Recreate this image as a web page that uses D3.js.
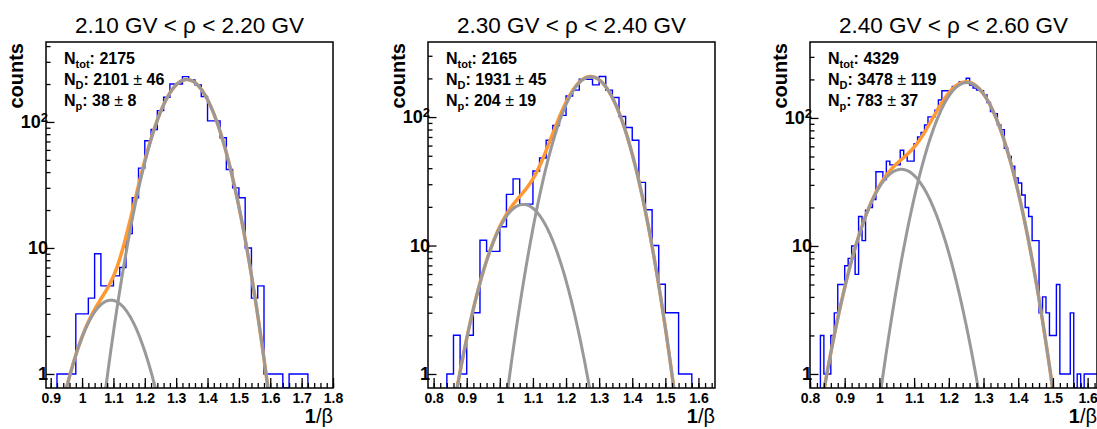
<!DOCTYPE html>
<html>
<head>
<meta charset="utf-8">
<script src="https://cdn.jsdelivr.net/npm/d3@7"></script>
<style>
body { margin: 0; background: #fff; }
svg { display: block; }
text { font-family: "Liberation Sans", Arial, Helvetica, sans-serif; }
</style>
</head>
<body>
<svg id="chart" width="1097" height="429"></svg>
<script>
// ---- data ----
const titles = ["2.10 GV < \u03C1 < 2.20 GV", "2.30 GV < \u03C1 < 2.40 GV", "2.40 GV < \u03C1 < 2.60 GV"];
const xRanges = [[0.885, 1.8], [0.783, 1.65], [0.8, 1.627]];
const yRanges = [[0.774, 431], [0.778, 384], [0.777, 392]];
const binStart = [0.92, 0.84, 0.83];
const binWidth = [0.02, 0.02, 0.01];

const counts1 = [1, 1, 1, 3, 3, 4, 9, 5, 5, 6, 7, 13, 25, 43, 71, 87, 123, 157, 200, 200,
  229, 215, 197, 159, 102, 102, 75, 42, 30, 25, 10, 4, 5, 1, 1, 1, 0, 1, 1, 1];
const counts2 = [1, 2, 1, 2, 3, 11, 9, 9, 14, 25, 33, 21, 21, 38, 48, 66, 86, 103, 146, 162,
  197, 197, 178, 207, 162, 142, 101, 83, 66, 31, 19, 10, 5, 3, 3, 1, 1];
const counts3 = [2, 1, 1, 2, 3, 5, 5, 7, 8, 10, 6, 17, 11, 19, 20, 23, 38, 38, 33, 46,
  43, 43, 43, 56, 51, 46, 46, 63, 71, 77, 88, 102, 102, 115, 138, 163, 163, 163, 176, 181,
  192, 192, 204, 181, 171, 165, 163, 151, 132, 112, 108, 88, 81, 58, 50, 42, 34, 31, 25, 20,
  17, 11, 11, 3, 4, 3, 2, 2, 5, 1, 1, 1, 3, 0, 1, 0, 1, 1, 1, 1];
const histCounts = [counts1, counts2, counts3];

const nTot = [2175, 2165, 4329];
const nD = [[2101, 46], [1931, 45], [3478, 119]];
const nP = [[38, 8], [204, 19], [783, 37]];

// gaussian fit components: [amplitude, mean, sigma]
const fitD = [[217, 1.334, 0.077], [206, 1.275, 0.075], [189, 1.252, 0.0745]];
const fitP = [[3.85, 1.092, 0.079], [20.9, 1.071, 0.078], [39.7, 1.063, 0.079]];

// ---- layout ----
const panelLeft = [46, 428, 810];
const plotWidth = 287;
const plotTop = 42;
const plotBottom = 388;

const svg = d3.select("#chart");

const gauss = (p, v) => p[0] * Math.exp(-0.5 * Math.pow((v - p[1]) / p[2], 2));

function drawPanel(i) {
	const L = panelLeft[i];
	const R = L + plotWidth;
	const x = d3.scaleLinear().domain(xRanges[i]).range([L, R]);
	const y = d3.scaleLog().domain(yRanges[i]).range([plotBottom, plotTop]);
	const yMin = yRanges[i][0];

	const clipId = "clip" + i;
	svg.append("clipPath").attr("id", clipId)
		.append("rect").attr("x", L).attr("y", plotTop).attr("width", plotWidth).attr("height", plotBottom - plotTop);

	const g = svg.append("g");
	const plot = g.append("g").attr("clip-path", `url(#${clipId})`);

	// histogram outline
	const counts = histCounts[i];
	const pts = [[binStart[i], yMin]];
	counts.forEach((c, k) => {
		const e0 = binStart[i] + k * binWidth[i];
		const v = Math.max(c, yMin);
		pts.push([e0, v], [e0 + binWidth[i], v]);
	});
	pts.push([binStart[i] + counts.length * binWidth[i], yMin]);

	plot.append("path")
		.attr("fill", "none")
		.attr("stroke", "#0000ff")
		.attr("stroke-width", 1.4)
		.attr("d", d3.line().x((d) => x(d[0])).y((d) => y(d[1]))(pts));

	// fit curves
	const grid = d3.range(xRanges[i][0], xRanges[i][1] + 0.002, 0.002);
	const curve = (f) => d3.line()
		.x((v) => x(v))
		.y((v) => y(Math.max(f(v), yMin * 0.3)))(grid);

	plot.append("path")
		.attr("fill", "none")
		.attr("stroke", "#ff9933")
		.attr("stroke-width", 3.5)
		.attr("d", curve((v) => gauss(fitD[i], v) + gauss(fitP[i], v)));

	[fitP[i], fitD[i]].forEach((p) => {
		plot.append("path")
			.attr("fill", "none")
			.attr("stroke", "#999999")
			.attr("stroke-width", 3)
			.attr("d", curve((v) => gauss(p, v)));
	});

	// frame
	g.append("rect")
		.attr("x", L).attr("y", plotTop)
		.attr("width", plotWidth).attr("height", plotBottom - plotTop)
		.attr("fill", "none").attr("stroke", "#000").attr("stroke-width", 1.5);

	// x axis: major every 0.1, minor every 0.02
	const major = d3.range(Math.ceil(xRanges[i][0] * 10 - 1e-6), Math.floor(xRanges[i][1] * 10 + 1e-6) + 1).map((k) => k / 10);
	const minor = d3.range(Math.ceil(xRanges[i][0] * 50 - 1e-6), Math.floor(xRanges[i][1] * 50 + 1e-6) + 1).map((k) => k / 50);

	const xMinor = g.append("g").attr("transform", `translate(0,${plotBottom})`)
		.call(d3.axisBottom(x).tickValues(minor).tickSize(-5).tickFormat(""));
	const xMajor = g.append("g").attr("transform", `translate(0,${plotBottom})`)
		.call(d3.axisBottom(x).tickValues(major).tickSize(-10).tickPadding(5).tickFormat(d3.format("~g")));
	[xMinor, xMajor].forEach((a) => {
		a.select(".domain").remove();
		a.selectAll("line").attr("stroke", "#000").attr("stroke-width", 1.3);
	});
	xMajor.selectAll("text")
		.attr("fill", "#000")
		.style("font-size", "14px")
		.style("font-weight", "bold");

	// y axis: log, major at decades
	const yMajor = [1, 10, 100].filter((v) => v >= yRanges[i][0] && v <= yRanges[i][1]);
	const yMinorVals = [2, 3, 4, 5, 6, 7, 8, 9, 20, 30, 40, 50, 60, 70, 80, 90, 200, 300, 400, 500]
		.filter((v) => v >= yRanges[i][0] && v <= yRanges[i][1]);

	const yMin_ = g.append("g").attr("transform", `translate(${L},0)`)
		.call(d3.axisLeft(y).tickValues(yMinorVals).tickSize(-4.5).tickFormat(""));
	const yMaj = g.append("g").attr("transform", `translate(${L},0)`)
		.call(d3.axisLeft(y).tickValues(yMajor).tickSize(-8.5).tickPadding(-2).tickFormat((d) => (d === 100 ? "10" : String(d))));
	[yMin_, yMaj].forEach((a) => {
		a.select(".domain").remove();
		a.selectAll("line").attr("stroke", "#000").attr("stroke-width", 1.3);
	});
	yMaj.selectAll("text")
		.attr("fill", "#000")
		.style("font-size", "18px")
		.style("font-weight", "bold")
		.each(function (d) {
			if (d === 100) {
				d3.select(this).append("tspan")
					.attr("dy", "-0.45em")
					.style("font-size", "13px")
					.text("2");
			}
		});

	// titles
	svg.append("text")
		.attr("x", (L + R) / 2).attr("y", 33)
		.attr("text-anchor", "middle")
		.style("font-size", "22.5px")
		.text(titles[i]);

	svg.append("text")
		.attr("transform", `translate(${L - 23},${plotTop + 1}) rotate(-90)`)
		.attr("text-anchor", "end")
		.style("font-size", "20px")
		.style("font-weight", "bold")
		.text("counts");

	const xt = svg.append("text")
		.attr("x", R).attr("y", 423)
		.attr("text-anchor", "end")
		.style("font-size", "20px");
	xt.append("tspan").style("font-weight", "bold").text("1");
	xt.append("tspan").text("/\u03B2");

	// stats box text
	const stats = [
		["tot", ": " + nTot[i], null],
		["D", ": " + nD[i][0] + " ", nD[i][1]],
		["p", ": " + nP[i][0] + " ", nP[i][1]]
	];
	stats.forEach((s, k) => {
		const t = svg.append("text")
			.attr("x", L + 18).attr("y", 64 + k * 21)
			.style("font-size", "16px")
			.style("font-weight", "bold");
		t.append("tspan").text("N");
		t.append("tspan").attr("dy", 4).style("font-size", "11px").text(s[0]);
		t.append("tspan").attr("dy", -4).text(s[1]);
		if (s[2] !== null) {
			t.append("tspan").style("font-weight", "normal").text("\u00B1");
			t.append("tspan").text(" " + s[2]);
		}
	});
}

[0, 1, 2].forEach(drawPanel);
</script>
</body>
</html>
